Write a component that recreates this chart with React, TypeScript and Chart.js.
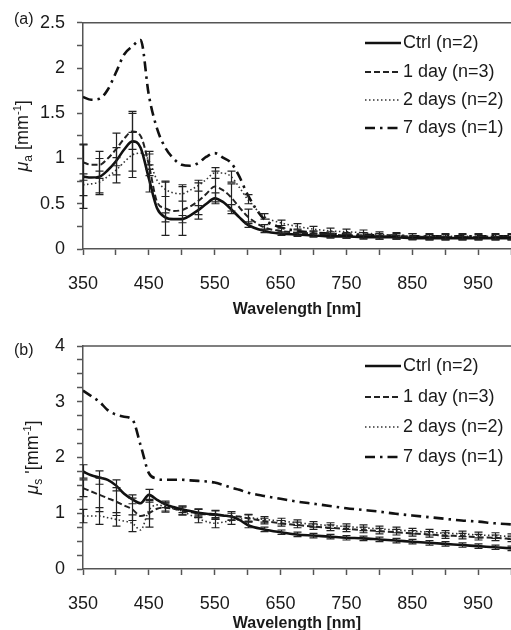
import React, { useEffect, useRef } from "react";
import { Chart, registerables } from "chart.js";

Chart.register(...registerables);

// ---------- data ----------
const wavelengths = [350, 362.5, 375, 387.5, 400, 412.5, 425, 437.5, 450, 462.5, 475, 487.5, 500, 512.5, 525, 537.5, 550, 562.5, 575, 587.5, 600, 625, 650, 675, 700, 725, 750, 775, 800, 825, 850, 875, 900, 925, 950, 975, 1000];

const seriesLabels = ["Ctrl (n=2)", "1 day (n=3)", "2 days (n=2)", "7 days (n=1)"];

// (a) absorption coefficient
const absCtrl = [0.80, 0.79, 0.80, 0.87, 0.97, 1.10, 1.19, 1.12, 0.78, 0.45, 0.35, 0.33, 0.33, 0.37, 0.43, 0.50, 0.56, 0.52, 0.44, 0.35, 0.27, 0.20, 0.17, 0.16, 0.15, 0.14, 0.14, 0.13, 0.13, 0.13, 0.12, 0.12, 0.12, 0.12, 0.12, 0.12, 0.12];
const abs1d = [0.96, 0.93, 0.93, 1.00, 1.10, 1.22, 1.30, 1.25, 0.93, 0.52, 0.45, 0.42, 0.43, 0.47, 0.53, 0.61, 0.69, 0.65, 0.57, 0.46, 0.36, 0.24, 0.20, 0.18, 0.17, 0.16, 0.15, 0.15, 0.14, 0.14, 0.14, 0.13, 0.13, 0.13, 0.13, 0.13, 0.13];
const abs2d = [0.71, 0.72, 0.74, 0.80, 0.87, 0.96, 1.04, 1.06, 0.98, 0.76, 0.66, 0.62, 0.61, 0.65, 0.70, 0.77, 0.84, 0.84, 0.80, 0.68, 0.55, 0.36, 0.29, 0.25, 0.22, 0.20, 0.19, 0.18, 0.16, 0.15, 0.14, 0.14, 0.14, 0.14, 0.14, 0.14, 0.14];
const abs7d = [1.68, 1.65, 1.66, 1.76, 1.95, 2.15, 2.24, 2.31, 1.70, 1.33, 1.12, 1.00, 0.93, 0.92, 0.95, 1.02, 1.06, 1.01, 0.95, 0.80, 0.60, 0.33, 0.24, 0.20, 0.18, 0.17, 0.16, 0.16, 0.15, 0.15, 0.14, 0.14, 0.14, 0.14, 0.14, 0.14, 0.14];

const errAbsCtrl = [0.35, null, 0.20, null, 0.15, null, 0.33, null, 0.15, null, 0.05, null, 0.04, null, 0.05, null, 0.06, null, 0.05, null, 0.03, 0.02, 0.02, 0.02, 0.02, 0.02, 0.02, 0.02, 0.02, 0.02, 0.02, 0.02, 0.02, 0.02, 0.02, 0.02, 0.02];
const errAbs1d = [0.20, null, 0.15, null, 0.18, null, 0.20, null, 0.12, null, 0.30, null, 0.28, null, 0.20, null, 0.17, null, 0.15, null, 0.08, 0.03, 0.03, 0.03, 0.03, 0.03, 0.03, 0.03, 0.03, 0.03, 0.03, 0.03, 0.03, 0.03, 0.03, 0.03, 0.03];
const errAbs2d = [0.12, null, 0.12, null, 0.14, null, 0.25, null, 0.10, null, 0.08, null, 0.08, null, 0.06, null, 0.06, null, 0.06, null, 0.05, 0.03, 0.03, 0.03, 0.03, 0.03, 0.03, 0.03, 0.03, 0.03, 0.03, 0.03, 0.03, 0.03, 0.03, 0.03, 0.03];

// (b) reduced scattering coefficient
const scCtrl = [1.75, 1.68, 1.64, 1.60, 1.50, 1.35, 1.25, 1.18, 1.33, 1.24, 1.16, 1.11, 1.07, 1.04, 1.01, 0.99, 0.98, 0.96, 0.94, 0.88, 0.79, 0.71, 0.66, 0.62, 0.60, 0.58, 0.56, 0.55, 0.53, 0.51, 0.49, 0.47, 0.45, 0.43, 0.41, 0.39, 0.37];
const sc1d = [1.45, 1.39, 1.33, 1.27, 1.21, 1.14, 1.07, 0.95, 1.00, 1.08, 1.10, 1.08, 1.05, 1.02, 1.00, 0.98, 0.97, 0.96, 0.95, 0.94, 0.91, 0.86, 0.82, 0.79, 0.76, 0.74, 0.72, 0.70, 0.68, 0.66, 0.64, 0.62, 0.60, 0.59, 0.57, 0.56, 0.54];
const sc2d = [0.95, 0.95, 0.95, 0.92, 0.89, 0.86, 0.82, 0.70, 1.05, 1.15, 1.12, 1.08, 1.04, 0.97, 0.90, 0.85, 0.82, 0.84, 0.87, 0.89, 0.92, 0.89, 0.86, 0.83, 0.80, 0.78, 0.76, 0.74, 0.72, 0.70, 0.68, 0.66, 0.64, 0.63, 0.61, 0.60, 0.58];
const sc7d = [3.20, 3.10, 3.00, 2.85, 2.77, 2.73, 2.68, 2.22, 1.72, 1.62, 1.60, 1.60, 1.60, 1.59, 1.58, 1.57, 1.55, 1.51, 1.46, 1.42, 1.37, 1.31, 1.26, 1.21, 1.17, 1.13, 1.09, 1.06, 1.03, 0.99, 0.96, 0.93, 0.90, 0.87, 0.85, 0.82, 0.80];

const errScCtrl = [0.12, null, 0.12, null, 0.10, null, 0.08, null, 0.10, null, 0.06, null, 0.06, null, 0.06, null, 0.06, null, 0.06, null, 0.05, 0.04, 0.04, 0.04, 0.04, 0.04, 0.04, 0.04, 0.04, 0.04, 0.04, 0.04, 0.04, 0.04, 0.04, 0.04, 0.04];
const errSc1d = [0.15, null, 0.30, null, 0.25, null, 0.20, null, 0.25, null, 0.08, null, 0.08, null, 0.08, null, 0.08, null, 0.08, null, 0.06, 0.05, 0.05, 0.05, 0.05, 0.05, 0.05, 0.05, 0.05, 0.05, 0.05, 0.05, 0.05, 0.05, 0.05, 0.05, 0.05];
const errSc2d = [0.12, null, 0.15, null, 0.12, null, 0.15, null, 0.15, null, 0.08, null, 0.07, null, 0.07, null, 0.08, null, 0.07, null, 0.06, 0.05, 0.05, 0.05, 0.05, 0.05, 0.05, 0.05, 0.05, 0.05, 0.05, 0.05, 0.05, 0.05, 0.05, 0.05, 0.05];

// tick labels
const xTickLabels = [350, 450, 550, 650, 750, 850, 950];
const yTickLabelsA = [0, 0.5, 1, 1.5, 2, 2.5];
const yTickLabelsB = [0, 1, 2, 3, 4];

// ---------- styling ----------
const FONT = "'Liberation Sans', Arial, sans-serif";
const INK = "#1a1a1a";
const AXIS = "#555";
const lineStyles = [
  { width: 2.6, dash: [] as number[], color: "#111" },
  { width: 2.0, dash: [6, 3], color: "#222" },
  { width: 1.6, dash: [1.5, 2.5], color: "#333" },
  { width: 2.6, dash: [10, 5, 2.5, 5], color: "#111" },
];

type TitlePart = { t: string; size: number; italic?: boolean; dy?: number };

type PanelCfg = {
  tag: string;
  values: number[][];
  errors: (number | null)[][];
  yMax: number;
  yLabels: number[];
  padTop: number;
  canvasH: number;
  xAxisH: number;
  titlePadB: number;
  legendRows: number[];
  yTitle: TitlePart[];
  yTitleX: number;
  tagY: number;
};

function makePlugin(cfg: PanelCfg) {
  return {
    id: "decor" + cfg.tag,
    afterDatasetsDraw(chart: any) {
      const ctx = chart.ctx;
      const xs = chart.scales.x;
      const ys = chart.scales.y;
      ctx.save();
      ctx.setLineDash([]);
      ctx.lineWidth = 1.2;
      ctx.strokeStyle = "#222";
      cfg.errors.forEach((errs, di) => {
        const vals = cfg.values[di];
        wavelengths.forEach((w, i) => {
          const e = errs[i];
          if (e == null) return;
          const px = Math.round(xs.getPixelForValue(w)) + 0.5;
          const y1 = ys.getPixelForValue(vals[i] + e);
          const y2 = ys.getPixelForValue(Math.max(vals[i] - e, 0));
          ctx.beginPath();
          ctx.moveTo(px, y1);
          ctx.lineTo(px, y2);
          ctx.moveTo(px - 4, y1);
          ctx.lineTo(px + 4, y1);
          ctx.moveTo(px - 4, y2);
          ctx.lineTo(px + 4, y2);
          ctx.stroke();
        });
      });
      ctx.restore();
    },
    afterDraw(chart: any) {
      const ctx = chart.ctx;
      const area = chart.chartArea;
      ctx.save();
      // top frame line
      ctx.strokeStyle = AXIS;
      ctx.lineWidth = 1.5;
      ctx.setLineDash([]);
      ctx.beginPath();
      ctx.moveTo(area.left, area.top);
      ctx.lineTo(chart.width, area.top);
      ctx.stroke();

      // legend
      seriesLabels.forEach((lab, i) => {
        const y = cfg.legendRows[i];
        const st = lineStyles[i];
        ctx.strokeStyle = st.color;
        ctx.lineWidth = st.width;
        ctx.setLineDash(st.dash);
        ctx.beginPath();
        ctx.moveTo(365, y);
        ctx.lineTo(401, y);
        ctx.stroke();
        ctx.setLineDash([]);
        ctx.fillStyle = INK;
        ctx.font = `18px ${FONT}`;
        ctx.textAlign = "left";
        ctx.textBaseline = "middle";
        ctx.fillText(lab, 403, y);
      });

      // panel tag
      ctx.fillStyle = INK;
      ctx.font = `16px ${FONT}`;
      ctx.textAlign = "left";
      ctx.textBaseline = "middle";
      ctx.fillText(cfg.tag, 14, cfg.tagY);

      // rotated y title with sub/superscripts
      const fontOf = (p: TitlePart) => `${p.italic ? "italic " : ""}${p.size}px ${FONT}`;
      let total = 0;
      cfg.yTitle.forEach((p) => {
        ctx.font = fontOf(p);
        total += ctx.measureText(p.t).width;
      });
      const cy = (area.top + area.bottom) / 2;
      ctx.translate(cfg.yTitleX, cy);
      ctx.rotate(-Math.PI / 2);
      ctx.textAlign = "left";
      ctx.textBaseline = "alphabetic";
      let x = -total / 2;
      cfg.yTitle.forEach((p) => {
        ctx.font = fontOf(p);
        ctx.fillText(p.t, x, p.dy || 0);
        x += ctx.measureText(p.t).width;
      });
      ctx.restore();
    },
  };
}

function buildConfig(cfg: PanelCfg): any {
  return {
    type: "line",
    data: {
      datasets: cfg.values.map((vals, i) => ({
        label: seriesLabels[i],
        data: wavelengths.map((w, j) => ({ x: w, y: vals[j] })),
        borderColor: lineStyles[i].color,
        borderWidth: lineStyles[i].width,
        borderDash: lineStyles[i].dash,
        pointRadius: 0,
        fill: false,
        cubicInterpolationMode: "monotone",
      })),
    },
    options: {
      responsive: false,
      animation: false,
      events: [],
      layout: { padding: { top: cfg.padTop, right: 19, left: 0, bottom: 0 } },
      plugins: { legend: { display: false }, tooltip: { enabled: false } },
      scales: {
        x: {
          type: "linear",
          min: 350,
          max: 1000,
          afterFit: (s: any) => {
            s.height = cfg.xAxisH;
          },
          ticks: {
            stepSize: 50,
            autoSkip: false,
            maxRotation: 0,
            padding: 18,
            color: INK,
            font: { family: FONT, size: 18 },
            callback: (v: number) => (xTickLabels.includes(v) ? String(v) : ""),
          },
          grid: { drawOnChartArea: false, drawTicks: true, tickLength: 6, tickColor: AXIS, tickWidth: 1.5 },
          border: { display: true, color: AXIS, width: 1.5 },
          title: {
            display: true,
            text: "Wavelength [nm]",
            color: INK,
            font: { family: FONT, size: 16, weight: "bold" },
            padding: { top: 0, bottom: cfg.titlePadB },
          },
        },
        y: {
          type: "linear",
          min: 0,
          max: cfg.yMax,
          afterFit: (s: any) => {
            s.width = 83;
          },
          ticks: {
            stepSize: 0.25,
            autoSkip: false,
            padding: 12,
            color: INK,
            font: { family: FONT, size: 18 },
            callback: (v: number) => {
              const r = Math.round(v * 100) / 100;
              return cfg.yLabels.includes(r) ? String(r) : "";
            },
          },
          grid: { drawOnChartArea: false, drawTicks: true, tickLength: 6, tickColor: AXIS, tickWidth: 1.5 },
          border: { display: true, color: AXIS, width: 1.5 },
        },
      },
    },
    plugins: [makePlugin(cfg)],
  };
}

const panelA: PanelCfg = {
  tag: "(a)",
  values: [absCtrl, abs1d, abs2d, abs7d],
  errors: [errAbsCtrl, errAbs1d, errAbs2d],
  yMax: 2.5,
  yLabels: yTickLabelsA,
  padTop: 15,
  canvasH: 330,
  xAxisH: 81,
  titlePadB: 10.4,
  legendRows: [43, 72, 100, 128],
  yTitle: [
    { t: "μ", size: 18, italic: true },
    { t: "a", size: 12, dy: 4 },
    { t: " [mm", size: 18 },
    { t: "-1", size: 11, dy: -7 },
    { t: "]", size: 18 },
  ],
  yTitleX: 28,
  tagY: 20,
};

const panelB: PanelCfg = {
  tag: "(b)",
  values: [scCtrl, sc1d, sc2d, sc7d],
  errors: [errScCtrl, errSc1d, errSc2d],
  yMax: 4,
  yLabels: yTickLabelsB,
  padTop: 26,
  canvasH: 316,
  xAxisH: 67,
  titlePadB: 2.4,
  legendRows: [46, 77, 107, 137],
  yTitle: [
    { t: "μ", size: 18, italic: true },
    { t: "s", size: 12, dy: 4 },
    { t: " '[mm", size: 18 },
    { t: "-1", size: 11, dy: -7 },
    { t: "]", size: 18 },
  ],
  yTitleX: 38,
  tagY: 31,
};

function Panel({ cfg, top }: { cfg: PanelCfg; top: number }) {
  const ref = useRef<HTMLCanvasElement>(null);
  useEffect(() => {
    const chart = new Chart(ref.current as HTMLCanvasElement, buildConfig(cfg));
    return () => chart.destroy();
  }, [cfg]);
  return (
    <canvas
      ref={ref}
      width={530}
      height={cfg.canvasH}
      style={{ position: "absolute", left: 0, top, width: 530, height: cfg.canvasH }}
    />
  );
}

export default function App() {
  return (
    <div
      style={{
        position: "absolute",
        left: 0,
        top: 0,
        width: 511,
        height: 630,
        overflow: "hidden",
        background: "#fff",
      }}
    >
      <Panel cfg={panelA} top={0} />
      <Panel cfg={panelB} top={320} />
    </div>
  );
}
